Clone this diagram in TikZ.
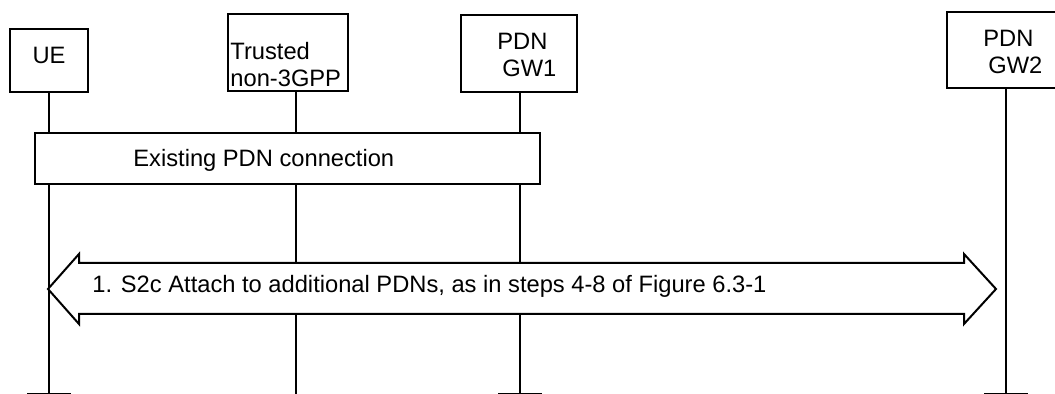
\documentclass[tikz,border=0pt]{standalone}
\usepackage{fontspec}
\setmainfont{Liberation Sans}
\begin{document}
\begin{tikzpicture}[x=0.5pt, y=-0.5pt,
    box/.style={draw, fill=white, line width=1pt, inner sep=0pt},
    txt/.style={inner sep=0pt, align=left, font=\fontsize{11.85}{13.5}\selectfont},
    life/.style={line width=1pt},
    tick/.style={line width=1pt}
  ]
  \clip (0,0) rectangle (1055,394);
  \fill[white] (0,0) rectangle (1055,394);

  \node[box, minimum width=39pt, minimum height=31.5pt] (ue) at (49,60.5) {};
  \node[box, minimum width=60pt, minimum height=38.5pt] (tn) at (288,52.5) {};
  \node[box, minimum width=58pt, minimum height=38.5pt] (gw1) at (519,53.5) {};
  \node[box, minimum width=59pt, minimum height=38pt] (gw2) at (1006,50) {};

  \node[txt] (ue-t) at (49,55.5) {UE};
  \node[txt, anchor=north west] (tn-t) at (230,42) {Trusted\\non-3GPP};
  \node[txt, anchor=north west] (gw1-t) at (497,33) {PDN\\\hspace{2.5pt}GW1};
  \node[txt, anchor=north west] (gw2-t) at (983,30) {PDN\\\hspace{2.5pt}GW2};

  \coordinate (ue-b) at (49,394);
  \coordinate (tn-b) at (296,394);
  \coordinate (gw1-b) at (520,394);
  \coordinate (gw2-b) at (1006,394);

  \draw[life] (ue.south) -- (ue-b);
  \draw[life] (tn.south -| tn-b) -- (tn-b);
  \draw[life] (gw1.south -| gw1-b) -- (gw1-b);
  \draw[life] (gw2.south) -- (gw2-b);

  \draw[tick] ([xshift=-11pt]ue-b) -- ([xshift=11pt]ue-b);
  \draw[tick] ([xshift=-11pt]gw1-b) -- ([xshift=11pt]gw1-b);
  \draw[tick] ([xshift=-11pt]gw2-b) -- ([xshift=11pt]gw2-b);

  \node[box, minimum width=252.5pt, minimum height=25.5pt] (pdn) at (287.5,158.5) {};
  \node[txt, anchor=west] (pdn-t) at (133,160) {Existing PDN connection};

  \draw[box] (48,289) -- (79,254) -- (79,263) -- (964,263) -- (964,254)
    -- (996,289) -- (964,324) -- (964,314) -- (79,314) -- (79,324) -- cycle;
  \node[txt, anchor=west] (att) at (92,286)
    {1. S2c Attach to additional PDNs, as in steps 4-8 of Figure 6.3-1};
\end{tikzpicture}
\end{document}
